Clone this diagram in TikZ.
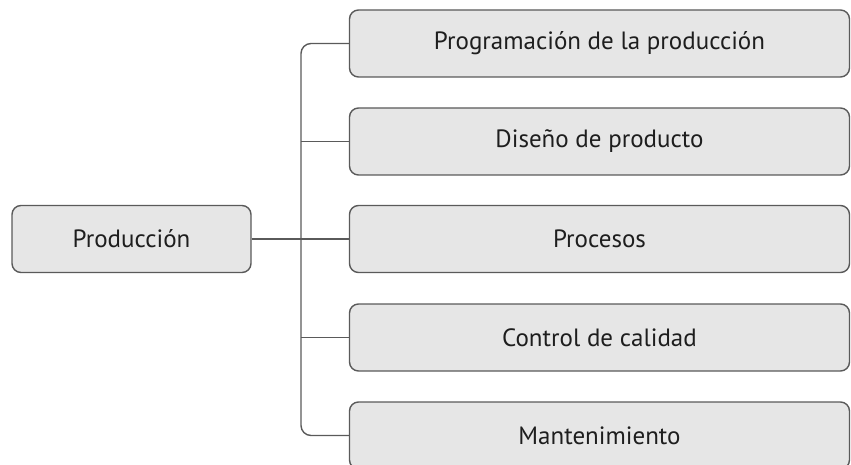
\documentclass[tikz,border=0pt]{standalone}
\usepackage{fontspec}
\setmainfont{PT Sans}
\definecolor{boxfill}{HTML}{E6E6E6}
\definecolor{boxline}{HTML}{5A5A5A}
\definecolor{txt}{HTML}{1E1E1E}
\begin{document}
\begin{tikzpicture}[x=1pt,y=-1pt,
  boxst/.style={draw=boxline,fill=boxfill,line width=1.4pt,rounded corners=9pt,
    text=txt,font=\fontsize{25}{30}\selectfont,anchor=center},
  conn/.style={draw=boxline,line width=1.4pt,rounded corners=10pt}]
\clip (0,0) rectangle (851,465);
\useasboundingbox (0,0) rectangle (851,465);
\node[boxst,minimum width=239pt,minimum height=67pt] (prod) at (131.5,239) {Producción};
\node[boxst,minimum width=500pt,minimum height=67pt] (b1) at (599.5,43.5) {Programación de la producción};
\node[boxst,minimum width=500pt,minimum height=67pt] (b2) at (599.5,141.5) {Diseño de producto};
\node[boxst,minimum width=500pt,minimum height=67pt] (b3) at (599.5,239) {Procesos};
\node[boxst,minimum width=500pt,minimum height=67pt] (b4) at (599.5,337.5) {Control de calidad};
\node[boxst,minimum width=500pt,minimum height=67pt] (b5) at (599.5,435.5) {Mantenimiento};
\coordinate (sp) at (301,239);
\draw[conn] (b1.west) -| (sp) |- (b5.west);
\draw[conn] (prod.east) -- (b3.west);
\draw[conn] (b2.west) -- (b2.west -| sp);
\draw[conn] (b4.west) -- (b4.west -| sp);
\end{tikzpicture}
\end{document}
